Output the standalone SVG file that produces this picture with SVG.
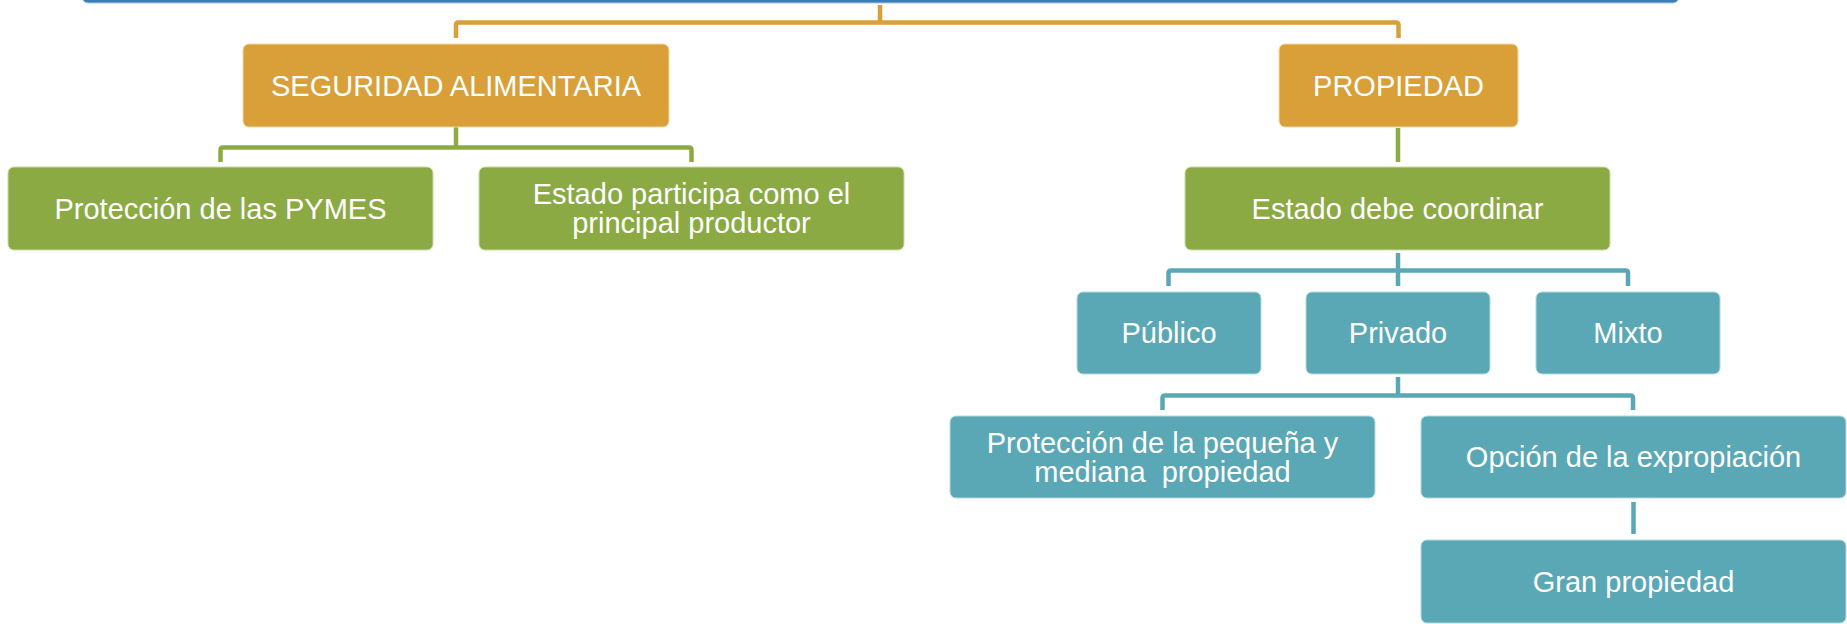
<svg xmlns="http://www.w3.org/2000/svg" width="1847" height="624" viewBox="0 0 1847 624">
<style>
.t{font-family:"Liberation Sans",Arial,sans-serif;font-size:29px;fill:#fff;text-anchor:middle}
.or{fill:#D9A03A;stroke:#F2D9A8;stroke-width:1}
.gr{fill:#8BAA44;stroke:#C9DAA4;stroke-width:1}
.tl{fill:#5AA8B5;stroke:#B4D9DF;stroke-width:1}
.co{fill:none;stroke:#D9A03A;stroke-width:4.5;stroke-linejoin:round}
.cg{fill:none;stroke:#8BAA44;stroke-width:4.5;stroke-linejoin:round}
.ct{fill:none;stroke:#5AA8B5;stroke-width:4.5;stroke-linejoin:round}
</style>
<rect width="1847" height="624" fill="#fff"/>
<g id="root"><rect x="82" y="-60" width="1597" height="63" rx="6" fill="#3C7DB7" stroke="#A9C7E2" stroke-width="1"/></g>
<g id="connectors">
<path class="co" d="M880 5V22.5"/>
<path class="co" d="M456 38V25Q456 22.5 458.5 22.5H1396Q1398.5 22.5 1398.5 25V38"/>
<path class="cg" d="M456 127V147.5"/>
<path class="cg" d="M220.5 162V150Q220.5 147.5 223 147.5H689Q691.5 147.5 691.5 150V162"/>
<path class="cg" d="M1398 128V162"/>
<path class="ct" d="M1398 253V286"/>
<path class="ct" d="M1168.5 286V273Q1168.5 270.5 1171 270.5H1625.5Q1628 270.5 1628 273V286"/>
<path class="ct" d="M1398 377V395.5"/>
<path class="ct" d="M1162.5 410V398Q1162.5 395.5 1165 395.5H1630.5Q1633 395.5 1633 398V410"/>
<path class="ct" d="M1633.5 502V534"/>
</g>
<g id="n-seguridad"><rect class="or" x="243" y="44" width="426" height="83" rx="6"/><text class="t" x="456" y="95.5">SEGURIDAD ALIMENTARIA</text></g>
<g id="n-propiedad"><rect class="or" x="1279" y="44" width="239" height="83" rx="6"/><text class="t" x="1398.5" y="95.5">PROPIEDAD</text></g>
<g id="n-pymes"><rect class="gr" x="8" y="167" width="425" height="83" rx="6"/><text class="t" x="220.5" y="218.5">Protección de las PYMES</text></g>
<g id="n-estado-participa"><rect class="gr" x="479" y="167" width="425" height="83" rx="6"/><text class="t" x="691.5" y="204">Estado participa como el</text><text class="t" x="691.5" y="233">principal productor</text></g>
<g id="n-estado-coordinar"><rect class="gr" x="1185" y="167" width="425" height="83" rx="6"/><text class="t" x="1397.5" y="218.5">Estado debe coordinar</text></g>
<g id="n-publico"><rect class="tl" x="1077" y="292" width="184" height="82" rx="6"/><text class="t" x="1169" y="343">Público</text></g>
<g id="n-privado"><rect class="tl" x="1306" y="292" width="184" height="82" rx="6"/><text class="t" x="1398" y="343">Privado</text></g>
<g id="n-mixto"><rect class="tl" x="1536" y="292" width="184" height="82" rx="6"/><text class="t" x="1628" y="343">Mixto</text></g>
<g id="n-pequena"><rect class="tl" x="950" y="416" width="425" height="82" rx="6"/><text class="t" x="1162.5" y="452.5">Protección de la pequeña y</text><text class="t" x="1162.5" y="481.5" xml:space="preserve">mediana  propiedad</text></g>
<g id="n-expropiacion"><rect class="tl" x="1421" y="416" width="425" height="82" rx="6"/><text class="t" x="1633.5" y="467">Opción de la expropiación</text></g>
<g id="n-gran"><rect class="tl" x="1421" y="540" width="425" height="83" rx="6"/><text class="t" x="1633.5" y="591.5">Gran propiedad</text></g>
</svg>
